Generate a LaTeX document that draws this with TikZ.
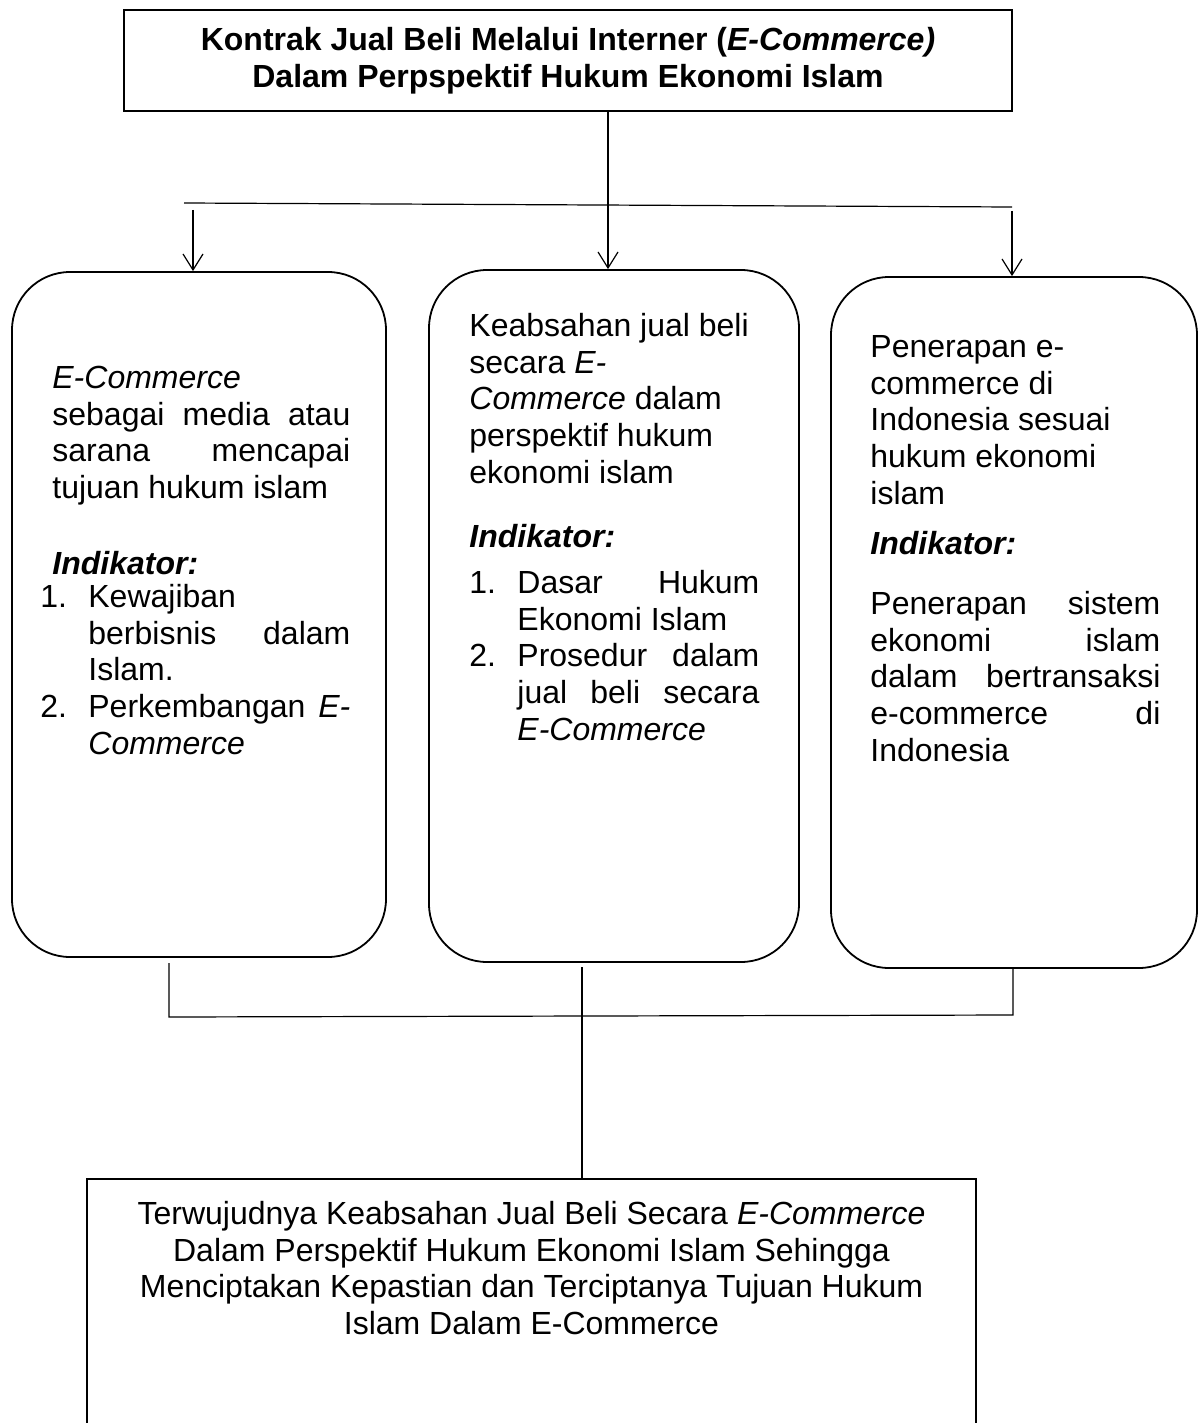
\documentclass[tikz,border=0pt]{standalone}
\usepackage{fontspec}
\setmainfont{Liberation Sans}
\usetikzlibrary{arrows.meta}
\begin{document}
\begin{tikzpicture}[x=0.5pt,y=-0.5pt,
  txt/.style={font=\fontsize{16}{18.4}\selectfont, inner sep=0pt, align=left, anchor=north west},
  rbox/.style={draw, line width=0.9pt, rounded corners=29pt, inner sep=0pt},
  sbox/.style={draw, line width=1.3pt, inner sep=0pt},
  conn/.style={line width=0.6pt},
  arr/.style={conn, -{Straight Barb[length=8pt,width=10pt]}}]
\useasboundingbox (0,0) rectangle (1202,1423);

% boxes
\node[sbox, minimum width=444pt, minimum height=50.5pt, align=center,
      font=\bfseries\fontsize{16}{18.4}\selectfont] (top) at (568,60.5)
  {Kontrak Jual Beli Melalui Interner (\textit{E-Commerce)}\\Dalam Perpspektif Hukum Ekonomi Islam};
\node[rbox, minimum width=187pt, minimum height=342.5pt] (L) at (199,614.5) {};
\node[rbox, minimum width=185pt, minimum height=346pt] (M) at (614,616) {};
\node[rbox, minimum width=183pt, minimum height=345.5pt] (R) at (1014,622.5) {};
\node[sbox, minimum width=444.5pt, minimum height=135.5pt] (B) at (531.5,1314.5) {};

% left box text
\node[txt] (Ld) at (52,362.2) {\strut\textit{E-Commerce}\\
  \makebox[149pt][s]{sebagai media atau}\\
  \makebox[149pt][s]{sarana mencapai}\\
  tujuan hukum islam};
\node[txt] (Li) at (52,548.2) {\strut\textbf{\textit{Indikator:}}};
\node[txt] (Ll) at (40,581.2) {\strut\makebox[24pt][l]{1.}Kewajiban\\
  \hspace*{24pt}\makebox[131pt][s]{berbisnis dalam}\\
  \hspace*{24pt}Islam.\\
  \makebox[24pt][l]{2.}\makebox[131pt][s]{Perkembangan \textit{E-}}\\
  \hspace*{24pt}\textit{Commerce}};

% middle box text
\node[txt] (Md) at (469,310.2) {\strut Keabsahan jual beli\\
  secara \textit{E-}\\
  \textit{Commerce} dalam\\
  perspektif hukum\\
  ekonomi islam};
\node[txt] (Mi) at (469,521.2) {\strut\textbf{\textit{Indikator:}}};
\node[txt] (Ml) at (469,567.2) {\strut\makebox[24pt][l]{1.}\makebox[121pt][s]{Dasar Hukum}\\
  \hspace*{24pt}Ekonomi Islam\\
  \makebox[24pt][l]{2.}\makebox[121pt][s]{Prosedur dalam}\\
  \hspace*{24pt}\makebox[121pt][s]{jual beli secara}\\
  \hspace*{24pt}\textit{E-Commerce}};

% right box text
\node[txt] (Rd) at (870,331.2) {\strut Penerapan e-\\
  commerce di\\
  Indonesia sesuai\\
  hukum ekonomi\\
  islam};
\node[txt] (Ri) at (870,528.2) {\strut\textbf{\textit{Indikator:}}};
\node[txt] (Rp) at (870,588.2) {\strut\makebox[145pt][s]{Penerapan sistem}\\
  \makebox[145pt][s]{ekonomi islam}\\
  \makebox[145pt][s]{dalam bertransaksi}\\
  \makebox[145pt][s]{e-commerce di}\\
  Indonesia};

% bottom text
\node[txt, anchor=north, align=center] (Bt) at (531.5,1198.2)
  {\strut Terwujudnya Keabsahan Jual Beli Secara \textit{E-Commerce}\\
   Dalam Perspektif Hukum Ekonomi Islam Sehingga\\
   Menciptakan Kepastian dan Terciptanya Tujuan Hukum\\
   Islam Dalam E-Commerce};

% top connectors
\coordinate (hl) at (184,203);
\coordinate (hr) at (1012,207);
\draw[conn] (hl) -- (hr);
\coordinate (ax) at (608,0);
\draw[arr] (ax |- top.south) -- (ax |- M.north);
\coordinate (a1) at (193,210);
\draw[arr] (a1) -- (a1 |- L.north);
\coordinate (a3) at (1012,211);
\draw[arr] (a3) -- (a3 |- R.north);

% bottom connectors
\coordinate (b1) at (169,963);
\coordinate (b2) at (169,1017);
\coordinate (b3) at (1013,1015);
\coordinate (b4) at (1013,969);
\draw[conn] (b1) -- (b2) -- (b3) -- (b4);
\coordinate (c0) at (582,967);
\draw[conn] (c0) -- (c0 |- B.north);
\end{tikzpicture}
\end{document}
